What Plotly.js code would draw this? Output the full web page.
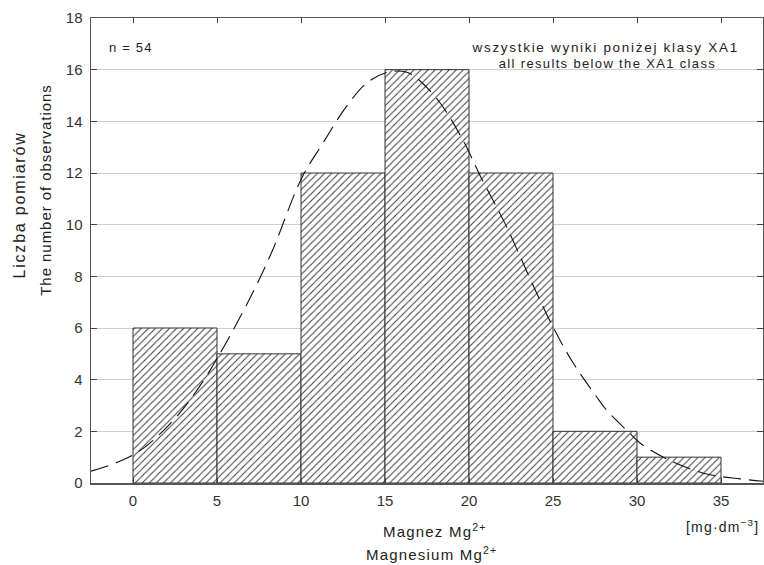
<!DOCTYPE html>
<html>
<head>
<meta charset="utf-8">
<script src="https://cdn.plot.ly/plotly-3.0.1.min.js"></script>
<style>
  html, body { margin: 0; padding: 0; background: #fff; }
  #chart { width: 764px; height: 565px; }
  .annotation-text { letter-spacing: 1.2px; }
  .annotation[data-index="1"] .annotation-text { letter-spacing: 1.7px; }
  .annotation[data-index="2"] .annotation-text { letter-spacing: 1.35px; }
  .annotation[data-index="3"] .annotation-text { letter-spacing: 1.8px; }
  .annotation[data-index="4"] .annotation-text { letter-spacing: 0.95px; }
</style>
</head>
<body>
<div id="chart"></div>
<script>
// Histogram bins (lower edges), counts
const binStarts = [0, 5, 10, 15, 20, 25, 30];
const binWidth = 5;
const counts = [6, 5, 12, 16, 12, 2, 1];

// Fitted normal curve
const curveX = [-2.5, -0.9, 0.65, 2.74, 4.33, 5.62, 7.2, 8.3, 10.04, 11.3, 12.7, 14.0, 15.3, 16.3, 16.9, 18.25, 19.64, 20.7, 22.14, 23.9, 24.9, 26.1, 27.6, 28.2, 29.5, 30.2, 31.75, 33.95, 36.15, 37.5];
const curveY = [0.46, 0.81, 1.36, 2.68, 4.1, 5.52, 7.46, 9.0, 11.8, 13.15, 14.57, 15.53, 15.92, 15.9, 15.67, 14.74, 13.27, 11.85, 10.05, 7.53, 6.17, 4.75, 3.33, 2.81, 1.97, 1.54, 0.94, 0.38, 0.16, 0.07];

const xTicks = [0, 5, 10, 15, 20, 25, 30, 35];
const yTicks = [0, 2, 4, 6, 8, 10, 12, 14, 16, 18];

const nLabel = 'n = 54';
const noteLines = ['wszystkie wyniki poniżej klasy XA1', 'all results below the XA1 class'];
const yTitleLines = ['Liczba pomiarów', 'The number of observations'];
const xTitleLines = ['Magnez Mg<sup>2+</sup>', 'Magnesium Mg<sup>2+</sup>'];
const unitLabel = '[mg·dm<sup>−3</sup>]';

const barCenters = binStarts.map(s => s + binWidth / 2);

const font = 'Liberation Sans, Arial, sans-serif';

const traces = [
  {
    type: 'bar',
    x: barCenters,
    y: counts,
    width: binStarts.map(() => binWidth),
    marker: {
      color: '#ffffff',
      line: { color: '#333333', width: 1 },
      pattern: { shape: '/', size: 5, solidity: 0.2, fgcolor: '#3a3a3a', bgcolor: '#ffffff', fillmode: 'replace' }
    },
    hoverinfo: 'skip'
  },
  {
    type: 'scatter',
    mode: 'lines',
    x: curveX,
    y: curveY,
    line: { color: '#111111', width: 1.1, dash: '18px,8px', shape: 'spline' },
    hoverinfo: 'skip'
  }
];

const layout = {
  width: 764,
  height: 565,
  margin: { l: 91, r: 1, t: 18, b: 82, pad: 0 },
  paper_bgcolor: '#ffffff',
  plot_bgcolor: '#ffffff',
  showlegend: false,
  bargap: 0,
  font: { family: font, color: '#333333', size: 14 },
  xaxis: {
    range: [-2.5, 37.5],
    tickvals: xTicks,
    ticktext: xTicks.map(String),
    ticks: 'inside',
    ticklen: 5,
    tickwidth: 1,
    tickcolor: '#444',
    showgrid: false,
    zeroline: false,
    showline: true,
    linecolor: '#555',
    linewidth: 1.5,
    mirror: 'ticks',
    tickfont: { family: font, size: 15, color: '#333' },
    ticklabelstandoff: 3
  },
  yaxis: {
    range: [0, 18],
    tickvals: yTicks,
    ticktext: yTicks.map(String),
    ticks: 'inside',
    ticklen: 6,
    tickwidth: 1,
    tickcolor: '#444',
    showgrid: true,
    gridcolor: '#cdced8',
    gridwidth: 1,
    zeroline: false,
    showline: true,
    linecolor: '#555',
    linewidth: 1.5,
    mirror: 'ticks',
    tickfont: { family: font, size: 15, color: '#333' },
    ticklabelstandoff: 4
  },
  annotations: [
    { xref: 'paper', yref: 'paper', x: (107 - 91) / 672, y: 1 - (48 - 18) / 465, xanchor: 'left', yanchor: 'middle',
      text: nLabel, showarrow: false, font: { family: font, size: 13, color: '#222' } },
    { xref: 'paper', yref: 'paper', x: (605 - 91) / 672, y: 1 - (47 - 18) / 465, xanchor: 'center', yanchor: 'middle',
      text: noteLines[0], showarrow: false, font: { family: font, size: 13.5, color: '#222' } },
    { xref: 'paper', yref: 'paper', x: (607 - 91) / 672, y: 1 - (64 - 18) / 465, xanchor: 'center', yanchor: 'middle',
      text: noteLines[1], showarrow: false, font: { family: font, size: 13, color: '#222' } },
    { xref: 'paper', yref: 'paper', x: (20 - 91) / 672, y: 1 - (205 - 18) / 465, xanchor: 'center', yanchor: 'middle',
      text: yTitleLines[0], textangle: -90, showarrow: false, font: { family: font, size: 16, color: '#222' } },
    { xref: 'paper', yref: 'paper', x: (45 - 91) / 672, y: 1 - (190 - 18) / 465, xanchor: 'center', yanchor: 'middle',
      text: yTitleLines[1], textangle: -90, showarrow: false, font: { family: font, size: 15, color: '#222' } },
    { xref: 'paper', yref: 'paper', x: (435 - 91) / 672, y: 1 - (530 - 18) / 465, xanchor: 'center', yanchor: 'middle',
      text: xTitleLines[0], showarrow: false, font: { family: font, size: 15, color: '#222' } },
    { xref: 'paper', yref: 'paper', x: (431 - 91) / 672, y: 1 - (553 - 18) / 465, xanchor: 'center', yanchor: 'middle',
      text: xTitleLines[1], showarrow: false, font: { family: font, size: 15, color: '#222' } },
    { xref: 'paper', yref: 'paper', x: (761 - 91) / 672, y: 1 - (526 - 18) / 465, xanchor: 'right', yanchor: 'middle',
      text: unitLabel, showarrow: false, font: { family: font, size: 14, color: '#222' } }
  ]
};

Plotly.newPlot('chart', traces, layout, { staticPlot: true, displayModeBar: false });
</script>
</body>
</html>
